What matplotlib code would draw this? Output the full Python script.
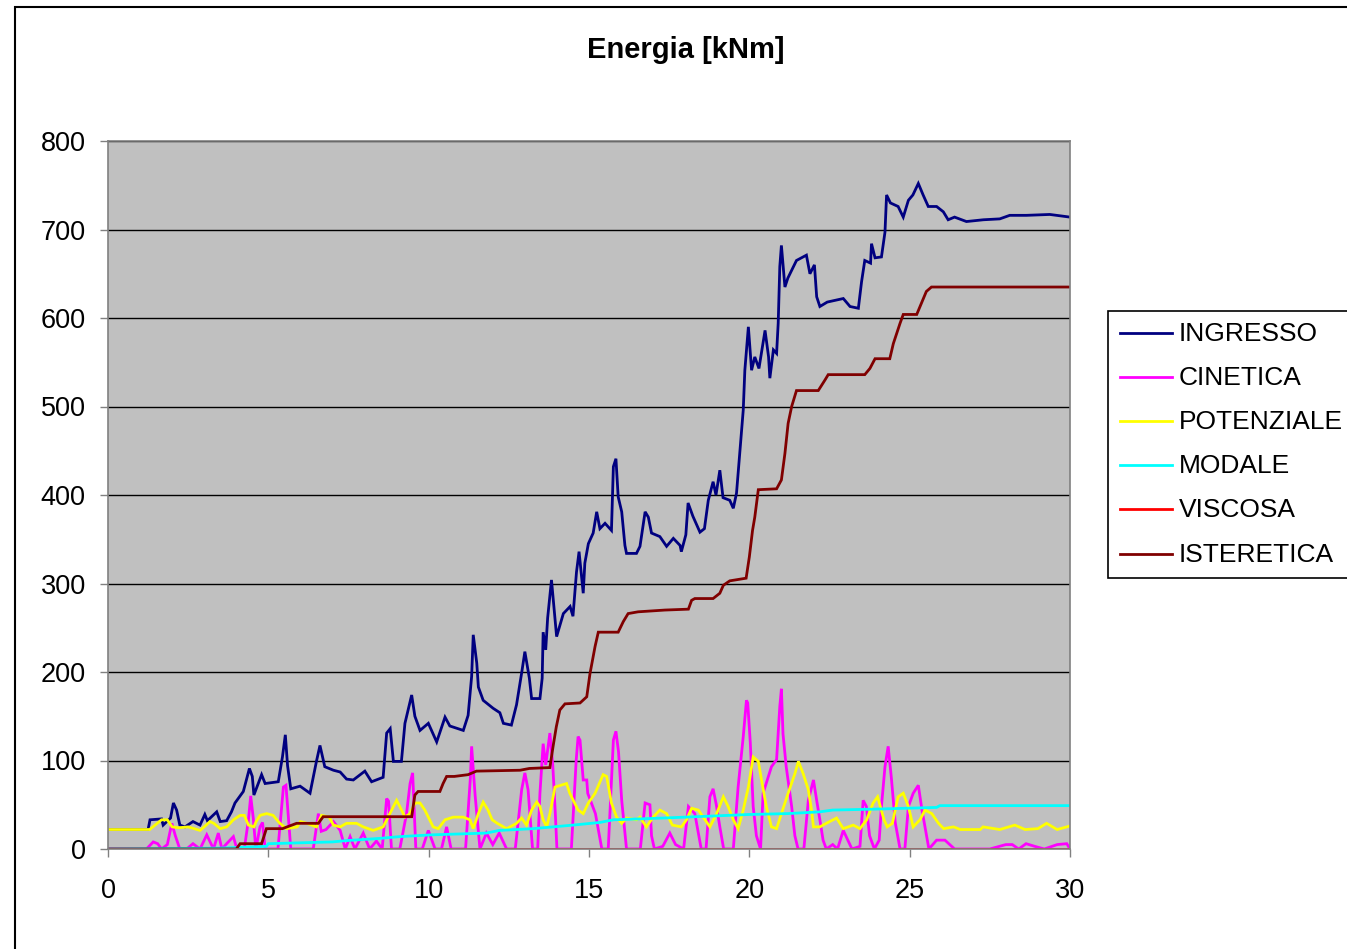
import matplotlib
matplotlib.use("Agg")
import matplotlib.pyplot as plt
from matplotlib.lines import Line2D
from matplotlib.patches import Rectangle

plt.rcParams['font.family'] = ['Liberation Sans', 'DejaVu Sans']

# ---------------- data ----------------
ingresso_t = [0, 1.25, 1.31, 1.67, 1.72, 1.95, 2.04, 2.14, 2.24, 2.4, 2.65, 2.87, 3.02, 3.1, 3.39, 3.5, 3.7, 3.85, 3.96,
              4.22, 4.41, 4.5, 4.55, 4.79, 4.9, 5.31, 5.44, 5.53, 5.6, 5.7, 5.99, 6.3, 6.5, 6.61, 6.76, 7.03, 7.24, 7.44,
              7.65, 8.01, 8.22, 8.58, 8.69, 8.8, 8.9, 9.15, 9.26, 9.47, 9.57, 9.73, 9.99, 10.25, 10.51, 10.66, 11.08,
              11.23, 11.34, 11.39, 11.5, 11.55, 11.7, 12.01, 12.22, 12.33, 12.58, 12.74, 12.9, 13.0, 13.14, 13.21,
              13.47, 13.54, 13.57, 13.65, 13.71, 13.83, 13.99, 14.2, 14.41, 14.5, 14.61, 14.69, 14.82, 14.87, 14.98,
              15.13, 15.24, 15.34, 15.5, 15.7, 15.76, 15.84, 15.91, 16.02, 16.12, 16.17, 16.48, 16.59, 16.75, 16.85,
              16.95, 17.21, 17.42, 17.63, 17.84, 17.88, 18.02, 18.09, 18.24, 18.46, 18.6, 18.72, 18.87, 18.96, 19.08,
              19.18, 19.39, 19.5, 19.6, 19.71, 19.81, 19.86, 19.97, 20.07, 20.17, 20.3, 20.49, 20.6, 20.64, 20.75,
              20.85, 20.9, 20.95, 21.0, 21.11, 21.2, 21.47, 21.78, 21.89, 22.03, 22.1, 22.2, 22.43, 22.93, 23.14,
              23.4, 23.5, 23.6, 23.78, 23.81, 23.92, 24.12, 24.23, 24.28, 24.4, 24.64, 24.8, 24.96, 25.1, 25.27,
              25.42, 25.58, 25.84, 26.05, 26.2, 26.4, 26.77, 27.3, 27.81, 28.12, 28.64, 29.37, 30]
ingresso_v = [22, 22, 33, 34, 27, 35, 52, 44, 27, 25, 31, 27, 39, 32, 42, 31, 32, 42, 52,
              65, 91, 82, 61, 84, 74, 76, 104, 129, 94, 68, 71, 63, 99, 117, 93, 89, 87, 79,
              78, 88, 76, 81, 131, 136, 99, 99, 142, 174, 150, 134, 142, 121, 149, 139, 134,
              151, 195, 242, 210, 183, 168, 159, 154, 142, 140, 163, 199, 223, 193, 170,
              170, 193, 245, 225, 261, 304, 240, 266, 274, 263, 313, 336, 289, 323, 345,
              357, 381, 362, 368, 360, 432, 441, 398, 381, 343, 334, 334, 342, 381, 375,
              357, 353, 342, 351, 343, 336, 355, 391, 376, 358, 362, 394, 415, 400, 428,
              397, 394, 385, 402, 451, 496, 541, 590, 541, 556, 543, 586, 556, 532, 564,
              560, 594, 658, 682, 635, 645, 665, 671, 650, 660, 624, 613, 618, 622, 613,
              611, 641, 665, 662, 684, 668, 669, 697, 739, 730, 726, 714, 733, 739, 752,
              739, 726, 726, 720, 711, 714, 709, 711, 712, 716, 716, 717, 714]

cinetica_t = [0, 1.2, 1.41, 1.55, 1.67, 1.85, 1.99, 2.1, 2.24, 2.45, 2.65, 2.87, 3.08, 3.29, 3.44, 3.55, 3.7, 3.91, 4.02,
              4.25, 4.38, 4.45, 4.53, 4.61, 4.74, 4.82, 4.9, 5.3, 5.47, 5.55, 5.7, 6.4, 6.56, 6.65, 6.8, 7.03, 7.24,
              7.4, 7.55, 7.7, 7.96, 8.16, 8.37, 8.55, 8.69, 8.75, 8.84, 9.1, 9.31, 9.42, 9.5, 9.6, 9.8, 9.99, 10.2,
              10.4, 10.56, 10.7, 11.15, 11.3, 11.34, 11.45, 11.6, 11.8, 12.0, 12.2, 12.43, 12.7, 12.9, 13.0, 13.1,
              13.24, 13.4, 13.47, 13.57, 13.65, 13.78, 13.87, 13.95, 14.0, 14.45, 14.6, 14.66, 14.72, 14.82, 14.93,
              14.96, 15.2, 15.4, 15.6, 15.76, 15.84, 15.92, 16.02, 16.17, 16.6, 16.75, 16.9, 16.95, 17.04, 17.3,
              17.52, 17.7, 17.95, 18.1, 18.3, 18.5, 18.65, 18.77, 18.87, 18.97, 19.08, 19.2, 19.5, 19.65, 19.81,
              19.91, 19.95, 20.03, 20.12, 20.22, 20.35, 20.43, 20.69, 20.85, 20.95, 21.0, 21.05, 21.15, 21.32,
              21.42, 21.52, 21.7, 21.84, 22.0, 22.1, 22.2, 22.3, 22.4, 22.6, 22.75, 22.93, 23.2, 23.45, 23.55,
              23.65, 23.75, 23.9, 24.05, 24.12, 24.23, 24.33, 24.43, 24.55, 24.7, 24.85, 24.96, 25.11, 25.27,
              25.38, 25.6, 25.84, 26.1, 26.4, 27.5, 28.0, 28.2, 28.4, 28.63, 28.9, 29.2, 29.6, 29.9, 30]
cinetica_v = [0, 0, 8, 6, 0, 5, 29, 15, 0, 0, 6, 0, 16, 0, 18, 0, 6, 14, 0,
              0, 33, 60, 35, 0, 25, 30, 0, 0, 70, 72, 0, 0, 40, 20, 22, 31, 21,
              0, 14, 0, 18, 0, 9, 0, 57, 54, 0, 0, 40, 74, 86, 0, 0, 21, 0,
              0, 25, 0, 0, 80, 116, 60, 0, 18, 5, 18, 0, 0, 67, 86, 67,
              0, 0, 63, 119, 95, 131, 95, 40, 0, 0, 100, 127, 123, 78, 78,
              63, 40, 0, 0, 123, 133, 110, 55, 0, 0, 52, 50, 15, 0, 3,
              18, 5, 0, 48, 40, 0, 0, 59, 68, 50, 25, 0, 0, 70, 127,
              168, 165, 120, 48, 15, 0, 63, 93, 101, 161, 181, 130, 93, 48,
              15, 0, 0, 55, 78, 55, 33, 10, 0, 5, 0, 21, 0, 3, 55,
              48, 15, 0, 10, 48, 93, 116, 80, 30, 0, 0, 48, 63, 72,
              45, 0, 10, 10, 0, 0, 5, 5, 0, 6, 3, 0, 5, 6, 0]

potenziale_t = [0, 1.3, 1.47, 1.67, 1.85, 2.0, 2.2, 2.5, 2.87, 3.0, 3.18, 3.3, 3.5, 3.7, 3.91, 4.12, 4.25, 4.38, 4.55,
                4.62, 4.74, 4.95, 5.15, 5.36, 5.57, 5.9, 6.0, 6.2, 6.5, 6.66, 6.9, 7.03, 7.24, 7.44, 7.75, 7.96, 8.27,
                8.58, 8.79, 9.0, 9.1, 9.26, 9.42, 9.57, 9.73, 9.88, 9.99, 10.14, 10.3, 10.51, 10.77, 11.08, 11.29,
                11.39, 11.55, 11.7, 11.85, 11.98, 12.14, 12.43, 12.74, 12.9, 13.05, 13.21, 13.37, 13.47, 13.57, 13.68,
                13.78, 13.94, 14.3, 14.4, 14.51, 14.66, 14.82, 14.98, 15.19, 15.44, 15.55, 15.7, 15.86, 16.02, 16.17,
                16.48, 16.59, 16.79, 17.0, 17.21, 17.42, 17.6, 17.88, 18.04, 18.2, 18.41, 18.56, 18.77, 18.98, 19.19,
                19.34, 19.5, 19.65, 19.81, 19.97, 20.12, 20.28, 20.38, 20.53, 20.69, 20.85, 21.0, 21.21, 21.42, 21.53,
                21.68, 21.84, 21.94, 22.0, 22.2, 22.4, 22.72, 22.93, 23.24, 23.45, 23.66, 23.86, 24.0, 24.2, 24.3,
                24.46, 24.64, 24.8, 24.96, 25.11, 25.32, 25.48, 25.69, 25.9, 26.06, 26.37, 26.58, 27.2, 27.29, 27.81,
                28.28, 28.6, 29.0, 29.27, 29.6, 30]
potenziale_v = [22, 22, 27, 33, 33, 25, 24, 25, 21, 25, 31, 29, 23, 25, 33, 38, 38, 27, 25,
                31, 38, 40, 38, 29, 23, 25, 31, 29, 25, 38, 36, 27, 25, 29, 29, 25, 21,
                25, 40, 55, 48, 36, 40, 52, 52, 44, 36, 25, 23, 33, 36, 36, 33,
                23, 40, 53, 44, 33, 29, 23, 29, 35, 27, 44, 53, 48, 33, 25,
                40, 70, 74, 63, 55, 44, 40, 52, 63, 84, 82, 52, 36, 29, 35,
                33, 36, 25, 36, 44, 40, 27, 25, 33, 46, 44, 36, 25, 40, 59,
                48, 33, 23, 44, 70, 104, 99, 78, 48, 25, 23, 40, 63, 85, 99,
                85, 67, 44, 25, 25, 29, 35, 23, 27, 23, 33, 52, 59, 33, 25,
                29, 59, 63, 48, 25, 33, 44, 40, 29, 23, 25, 22, 22, 25, 22,
                27, 22, 23, 29, 22, 26]

modale_t = [0, 3.5, 4.94, 5.0, 7.0, 7.44, 8.48, 9.1, 10.1, 11.8, 12.2, 13.26, 14.5, 15.34, 15.76, 17.32, 19.08,
            20.0, 21.2, 22.2, 22.6, 23.86, 25.84, 25.94, 30]
modale_v = [0, 1, 3, 6, 8, 9.5, 12, 14, 16, 18, 21, 23, 27, 30, 33, 35, 37.6,
            39, 40, 42, 44, 45, 47, 49, 49]

viscosa_t = [0, 30]
viscosa_v = [0, 0]

isteretica_t = [0, 4.0, 4.12, 4.79, 4.94, 5.44, 5.88, 6.56, 6.71, 9.47, 9.57, 9.67, 10.35, 10.45, 10.56, 10.8, 11.23,
                11.49, 12.85, 13.14, 13.78, 13.88, 13.98, 14.09, 14.25, 14.72, 14.93, 15.03, 15.19, 15.29, 15.91,
                16.07, 16.22, 16.53, 17.37, 18.1, 18.2, 18.3, 18.87, 19.08, 19.19, 19.39, 19.9, 20.0, 20.1, 20.17,
                20.28, 20.85, 21.0, 21.11, 21.21, 21.32, 21.47, 22.15, 22.36, 22.46, 23.6, 23.76, 23.92, 24.38,
                24.49, 24.7, 24.8, 25.22, 25.37, 25.52, 25.68, 30]
isteretica_v = [0, 0, 6, 6, 23, 23, 29, 29, 36.5, 36.5, 61, 65, 65, 74, 82, 82, 84,
                88, 89, 91, 92, 116, 138, 157, 164, 165, 172, 198, 229, 245, 245,
                257, 266, 268, 270, 271, 281, 283, 283, 289, 298, 303, 306, 330, 360, 375,
                406, 407, 417, 447, 481, 500, 518, 518, 530, 536, 536, 543, 554, 554,
                571, 594, 604, 604, 617, 630, 635, 635]

series = [
    ("INGRESSO", ingresso_t, ingresso_v, "#000080"),
    ("CINETICA", cinetica_t, cinetica_v, "#FF00FF"),
    ("POTENZIALE", potenziale_t, potenziale_v, "#FFFF00"),
    ("MODALE", modale_t, modale_v, "#00FFFF"),
    ("VISCOSA", viscosa_t, viscosa_v, "#FF0000"),
    ("ISTERETICA", isteretica_t, isteretica_v, "#800000"),
]

x_ticks = [0, 5, 10, 15, 20, 25, 30]
y_ticks = [0, 100, 200, 300, 400, 500, 600, 700, 800]

# ---------------- figure ----------------
W, H = 1347, 949
fig = plt.figure(figsize=(W / 100, H / 100), dpi=100)
fig.patch.set_facecolor("white")

def fx(px):
    return px / W

def fy(py):
    return 1 - py / H

ax = fig.add_axes([fx(108), fy(849), fx(1070) - fx(108), fy(141) - fy(849)])
ax.set_facecolor("#C0C0C0")

for name, t, v, c in series:
    ax.plot(t, v, color=c, lw=2.0, solid_joinstyle="miter")

ax.set_xlim(0, 30)
ax.set_ylim(0, 800)
ax.set_xticks(x_ticks)
ax.set_yticks(y_ticks)
ax.tick_params(axis="both", direction="out", length=6, width=1, color="#808080",
               labelsize=19.5, labelcolor="black")
ax.tick_params(axis="x", pad=15)
ax.tick_params(axis="y", pad=10)
ax.yaxis.grid(True, color="black", lw=1)
ax.set_axisbelow(True)
for s in ax.spines.values():
    s.set_color("#808080")
    s.set_linewidth(1.2)

# title
fig.text(fx(686), fy(50), "Energia [kNm]", ha="center", va="center",
         fontsize=21, fontweight="bold")

# legend
fig.patches.append(Rectangle((fx(1108), fy(578)), fx(1400) - fx(1108), fy(311) - fy(578),
                             transform=fig.transFigure, facecolor="white",
                             edgecolor="black", lw=1.2))
ys = [333, 377, 421, 465, 509, 554]
for (name, t, v, c), yy in zip(series, ys):
    fig.lines.append(Line2D([fx(1120), fx(1172)], [fy(yy), fy(yy)],
                            transform=fig.transFigure, color=c, lw=2.0))
    fig.text(fx(1179), fy(yy + 1), name, ha="left", va="center", fontsize=19)

# outer chart border
fig.patches.append(Rectangle((fx(15), fy(1000)), fx(1400) - fx(15), fy(7) - fy(1000),
                             transform=fig.transFigure, facecolor="none",
                             edgecolor="black", lw=1.5))

fig.savefig("out.png", dpi=100)
